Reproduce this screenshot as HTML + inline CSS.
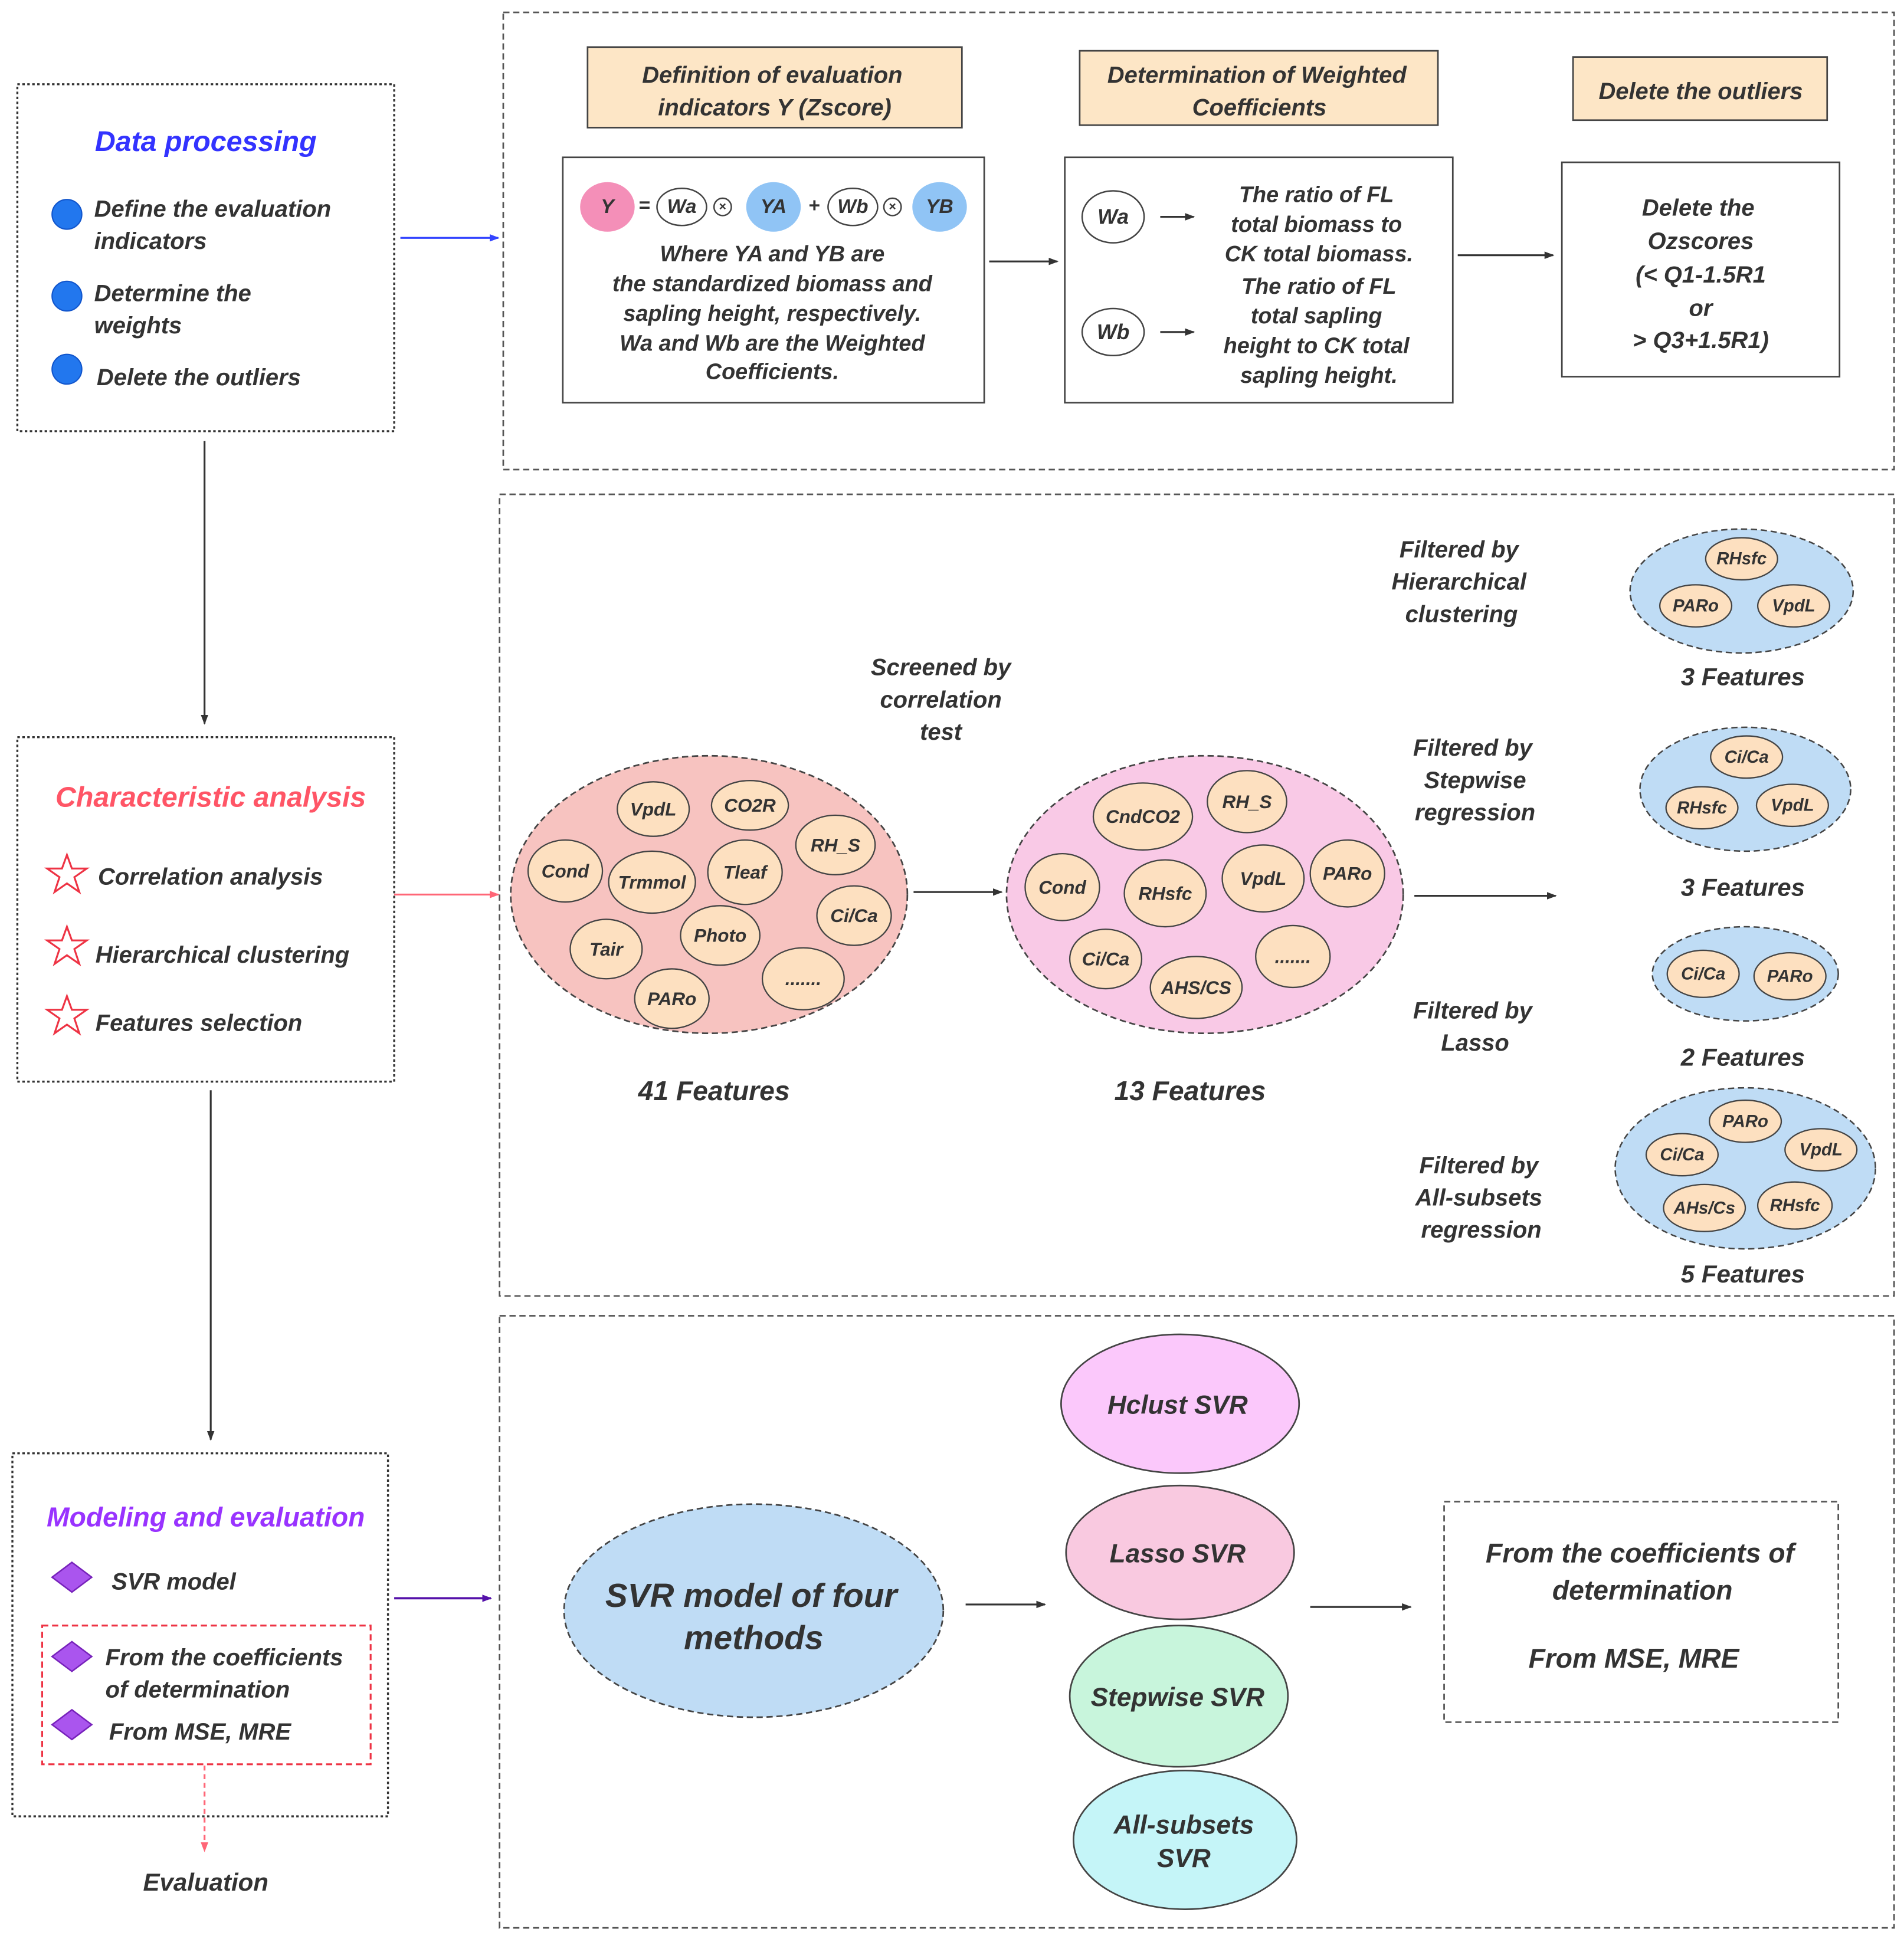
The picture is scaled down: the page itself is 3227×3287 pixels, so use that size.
<!DOCTYPE html>
<html><head><meta charset="utf-8"><style>
html,body{margin:0;padding:0;background:#fff;}
svg{display:block;}
text{font-family:"Liberation Sans",Arial,sans-serif;font-weight:bold;font-style:italic;fill:#333;}
.s{font-style:normal;font-size:15px;text-anchor:middle;dominant-baseline:central;}
.c{text-anchor:middle;}
</style></head><body>
<svg width="3227" height="3287" viewBox="0 0 1536 1565" preserveAspectRatio="none" xmlns="http://www.w3.org/2000/svg">
<defs>
<marker id="a" markerWidth="8" markerHeight="8" refX="7" refY="4" orient="auto" markerUnits="userSpaceOnUse"><path d="M0,1 L8,4 L0,7 z" fill="#333"/></marker>
<marker id="ab" markerWidth="8" markerHeight="8" refX="7" refY="4" orient="auto" markerUnits="userSpaceOnUse"><path d="M0,1 L8,4 L0,7 z" fill="#3344ff"/></marker>
<marker id="ar" markerWidth="8" markerHeight="8" refX="7" refY="4" orient="auto" markerUnits="userSpaceOnUse"><path d="M0,1 L8,4 L0,7 z" fill="#ff6677"/></marker>
<marker id="ap" markerWidth="8" markerHeight="8" refX="7" refY="4" orient="auto" markerUnits="userSpaceOnUse"><path d="M0,1 L8,4 L0,7 z" fill="#5511aa"/></marker>
</defs>
<rect width="1536" height="1565" fill="#fff"/>

<!-- Left boxes -->
<g fill="none" stroke="#333" stroke-width="1.6" stroke-dasharray="2,2">
<rect x="14" y="68" width="304" height="280"/>
<rect x="14" y="595" width="304" height="278"/>
<rect x="10" y="1173" width="303" height="293"/>
</g>
<text x="166" y="122" class="c" style="font-size:23px;fill:#3333ff">Data processing</text>
<g fill="#2277ee" stroke="#1155cc" stroke-width="1"><circle cx="54" cy="173" r="12"/><circle cx="54" cy="239" r="12"/><circle cx="54" cy="298" r="12"/></g>
<g style="font-size:19px"><text x="76" y="175">Define the evaluation</text><text x="76" y="201">indicators</text>
<text x="76" y="243">Determine the</text><text x="76" y="269">weights</text>
<text x="78" y="311">Delete the outliers</text></g>
<line x1="165" y1="356" x2="165" y2="584" stroke="#333" stroke-width="1.5" marker-end="url(#a)"/>

<text x="170" y="651" class="c" style="font-size:23px;fill:#ff5566">Characteristic analysis</text>
<g fill="#fff" stroke="#ee3344" stroke-width="1.5">
<path d="M54,690 l4,11 12,0 -10,7 4,12 -10,-7 -10,7 4,-12 -10,-7 12,0z"/>
<path d="M54,748 l4,11 12,0 -10,7 4,12 -10,-7 -10,7 4,-12 -10,-7 12,0z"/>
<path d="M54,804 l4,11 12,0 -10,7 4,12 -10,-7 -10,7 4,-12 -10,-7 12,0z"/></g>
<g style="font-size:19px"><text x="79" y="714">Correlation analysis</text><text x="77" y="777">Hierarchical clustering</text><text x="77" y="832">Features selection</text></g>
<line x1="170" y1="880" x2="170" y2="1162" stroke="#333" stroke-width="1.5" marker-end="url(#a)"/>

<text x="166" y="1232" class="c" style="font-size:22px;fill:#9933ff">Modeling and evaluation</text>
<g fill="#aa55ee" stroke="#7722bb" stroke-width="1.2">
<path d="M58,1261 l16,12 -16,12 -16,-12z"/><path d="M58,1325 l16,12 -16,12 -16,-12z"/><path d="M58,1380 l16,12 -16,12 -16,-12z"/></g>
<rect x="34" y="1312" width="265" height="112" fill="none" stroke="#ee3344" stroke-width="1.5" stroke-dasharray="5,3"/>
<g style="font-size:19px"><text x="90" y="1283">SVR model</text><text x="85" y="1344">From the coefficients</text><text x="85" y="1370">of determination</text><text x="88" y="1404">From MSE, MRE</text></g>
<line x1="165" y1="1425" x2="165" y2="1494" stroke="#ff6677" stroke-width="1.5" stroke-dasharray="4,3" marker-end="url(#ar)"/>
<text x="166" y="1526" class="c" style="font-size:20px">Evaluation</text>

<line x1="323" y1="192" x2="402" y2="192" stroke="#3344ff" stroke-width="1.5" marker-end="url(#ab)"/>
<line x1="318" y1="722" x2="402" y2="722" stroke="#ff6677" stroke-width="1.5" marker-end="url(#ar)"/>
<line x1="318" y1="1290" x2="396" y2="1290" stroke="#5511aa" stroke-width="1.8" marker-end="url(#ap)"/>

<!-- Right panels -->
<g fill="none" stroke="#555" stroke-width="1.3" stroke-dasharray="5,3">
<rect x="406" y="10" width="1122" height="369"/>
<rect x="403" y="399" width="1125" height="647"/>
<rect x="403" y="1062" width="1125" height="494"/>
</g>

<!-- Panel 1 -->
<g fill="#fde6c6" stroke="#444" stroke-width="1.3">
<rect x="474" y="38" width="302" height="65"/><rect x="871" y="41" width="289" height="60"/><rect x="1269" y="46" width="205" height="51"/></g>
<g style="font-size:19px" class="c">
<text x="623" y="67" class="c">Definition of evaluation</text><text x="625" y="93" class="c">indicators Y (Zscore)</text>
<text x="1014" y="67" class="c">Determination of Weighted</text><text x="1016" y="93" class="c">Coefficients</text>
<text x="1372" y="80" class="c">Delete the outliers</text></g>
<g fill="#fff" stroke="#444" stroke-width="1.3">
<rect x="454" y="127" width="340" height="198"/><rect x="859" y="127" width="313" height="198"/><rect x="1260" y="131" width="224" height="173"/></g>
<ellipse cx="490" cy="167" rx="22" ry="20" fill="#f48fb8"/>
<ellipse cx="624" cy="167" rx="22" ry="20" fill="#90c4f5"/>
<ellipse cx="758" cy="167" rx="22" ry="20" fill="#90c4f5"/>
<g fill="#fff" stroke="#444" stroke-width="1.2"><ellipse cx="550" cy="167" rx="20" ry="15"/><ellipse cx="688" cy="167" rx="20" ry="15"/>
<circle cx="583" cy="167" r="7"/><circle cx="720" cy="167" r="7"/></g>
<g class="s" style="font-style:italic;font-size:16px"><text x="490" y="167">Y</text><text x="550" y="167">Wa</text><text x="624" y="167">YA</text><text x="688" y="167">Wb</text><text x="758" y="167">YB</text>
<text x="520" y="166" style="font-style:normal">=</text><text x="657" y="166" style="font-style:normal">+</text>
<text x="583" y="167" style="font-size:10px;font-style:normal">×</text><text x="720" y="167" style="font-size:10px;font-style:normal">×</text></g>
<g style="font-size:18px"><text x="623" y="211" class="c">Where YA and YB are</text><text x="623" y="235" class="c">the standardized biomass and</text><text x="623" y="259" class="c">sapling height, respectively.</text><text x="623" y="283" class="c">Wa and Wb are the Weighted</text><text x="623" y="306" class="c">Coefficients.</text></g>
<line x1="798" y1="211" x2="853" y2="211" stroke="#333" stroke-width="1.5" marker-end="url(#a)"/>
<g fill="#fff" stroke="#444" stroke-width="1.2"><ellipse cx="898" cy="175" rx="25" ry="21"/><ellipse cx="898" cy="268" rx="25" ry="19"/></g>
<g class="s" style="font-style:italic;font-size:17px"><text x="898" y="175">Wa</text><text x="898" y="268">Wb</text></g>
<line x1="936" y1="175" x2="963" y2="175" stroke="#333" stroke-width="1.5" marker-end="url(#a)"/>
<line x1="936" y1="268" x2="963" y2="268" stroke="#333" stroke-width="1.5" marker-end="url(#a)"/>
<g style="font-size:18px"><text x="1062" y="163" class="c">The ratio of FL</text><text x="1062" y="187" class="c">total biomass to</text><text x="1064" y="211" class="c">CK total biomass.</text>
<text x="1064" y="237" class="c">The ratio of FL</text><text x="1062" y="261" class="c">total sapling</text><text x="1062" y="285" class="c">height to CK total</text><text x="1064" y="309" class="c">sapling height.</text></g>
<line x1="1176" y1="206" x2="1253" y2="206" stroke="#333" stroke-width="1.5" marker-end="url(#a)"/>
<g style="font-size:19px"><text x="1370" y="174" class="c">Delete the</text><text x="1372" y="201" class="c">Ozscores</text><text x="1372" y="228" class="c">(&lt; Q1-1.5R1</text><text x="1372" y="255" class="c">or</text><text x="1372" y="281" class="c">&gt; Q3+1.5R1)</text></g>

<!-- Panel 2 -->
<ellipse cx="572" cy="722" rx="160" ry="112" fill="#f7c3c0" stroke="#444" stroke-width="1.3" stroke-dasharray="5,3"/>
<ellipse cx="972" cy="722" rx="160" ry="112" fill="#f9c9e6" stroke="#444" stroke-width="1.3" stroke-dasharray="5,3"/>
<g fill="#fde0c0" stroke="#444" stroke-width="1.1">
<ellipse cx="527" cy="653" rx="29" ry="22"/><ellipse cx="605" cy="650" rx="31" ry="20"/><ellipse cx="674" cy="682" rx="32" ry="24"/><ellipse cx="456" cy="703" rx="30" ry="25"/><ellipse cx="526" cy="712" rx="35" ry="25"/><ellipse cx="601" cy="704" rx="30" ry="26"/><ellipse cx="689" cy="739" rx="30" ry="24"/><ellipse cx="489" cy="766" rx="29" ry="24"/><ellipse cx="581" cy="755" rx="32" ry="24"/><ellipse cx="542" cy="806" rx="30" ry="24"/><ellipse cx="648" cy="790" rx="33" ry="25"/>
<ellipse cx="922" cy="659" rx="40" ry="27"/><ellipse cx="1006" cy="647" rx="32" ry="25"/><ellipse cx="857" cy="716" rx="30" ry="27"/><ellipse cx="940" cy="721" rx="33" ry="27"/><ellipse cx="1019" cy="709" rx="33" ry="27"/><ellipse cx="1087" cy="705" rx="30" ry="27"/><ellipse cx="892" cy="774" rx="29" ry="24"/><ellipse cx="965" cy="797" rx="37" ry="25"/><ellipse cx="1043" cy="772" rx="30" ry="25"/>
</g>
<g class="s"><text x="527" y="653">VpdL</text><text x="605" y="650">CO2R</text><text x="674" y="682">RH_S</text><text x="456" y="703">Cond</text><text x="526" y="712">Trmmol</text><text x="601" y="704">Tleaf</text><text x="689" y="739">Ci/Ca</text><text x="489" y="766">Tair</text><text x="581" y="755">Photo</text><text x="542" y="806">PARo</text><text x="648" y="790">.......</text>
<text x="922" y="659">CndCO2</text><text x="1006" y="647">RH_S</text><text x="857" y="716">Cond</text><text x="940" y="721">RHsfc</text><text x="1019" y="709">VpdL</text><text x="1087" y="705">PARo</text><text x="892" y="774">Ci/Ca</text><text x="965" y="797">AHS/CS</text><text x="1043" y="772">.......</text></g>
<line x1="737" y1="720" x2="808" y2="720" stroke="#333" stroke-width="1.5" marker-end="url(#a)"/>
<g style="font-size:19px"><text x="759" y="545" class="c">Screened by</text><text x="759" y="571" class="c">correlation</text><text x="759" y="597" class="c">test</text></g>
<g style="font-size:22px"><text x="576" y="888" class="c">41 Features</text><text x="960" y="888" class="c">13 Features</text></g>
<line x1="1141" y1="723" x2="1255" y2="723" stroke="#333" stroke-width="1.5" marker-end="url(#a)"/>
<g style="font-size:19px">
<text x="1177" y="450" class="c">Filtered by</text><text x="1177" y="476" class="c">Hierarchical</text><text x="1179" y="502" class="c">clustering</text>
<text x="1188" y="610" class="c">Filtered by</text><text x="1190" y="636" class="c">Stepwise</text><text x="1190" y="662" class="c">regression</text>
<text x="1188" y="822" class="c">Filtered by</text><text x="1190" y="848" class="c">Lasso</text>
<text x="1193" y="947" class="c">Filtered by</text><text x="1193" y="973" class="c">All-subsets</text><text x="1195" y="999" class="c">regression</text></g>
<g fill="#bfdcf5" stroke="#444" stroke-width="1.2" stroke-dasharray="5,3">
<ellipse cx="1405" cy="477" rx="90" ry="50"/><ellipse cx="1408" cy="637" rx="85" ry="50"/><ellipse cx="1408" cy="786" rx="75" ry="38"/><ellipse cx="1408" cy="943" rx="105" ry="65"/></g>
<g fill="#fde0c0" stroke="#444" stroke-width="1.1">
<ellipse cx="1405" cy="451" rx="29" ry="17"/><ellipse cx="1368" cy="489" rx="29" ry="17"/><ellipse cx="1447" cy="489" rx="29" ry="17"/>
<ellipse cx="1409" cy="611" rx="29" ry="17"/><ellipse cx="1373" cy="652" rx="29" ry="17"/><ellipse cx="1446" cy="650" rx="29" ry="17"/>
<ellipse cx="1374" cy="786" rx="29" ry="19"/><ellipse cx="1444" cy="788" rx="29" ry="19"/>
<ellipse cx="1408" cy="905" rx="29" ry="17"/><ellipse cx="1357" cy="932" rx="29" ry="17"/><ellipse cx="1469" cy="928" rx="29" ry="17"/><ellipse cx="1375" cy="975" rx="33" ry="19"/><ellipse cx="1448" cy="973" rx="30" ry="19"/></g>
<g class="s" style="font-size:14px"><text x="1405" y="451">RHsfc</text><text x="1368" y="489">PARo</text><text x="1447" y="489">VpdL</text>
<text x="1409" y="611">Ci/Ca</text><text x="1373" y="652">RHsfc</text><text x="1446" y="650">VpdL</text>
<text x="1374" y="786">Ci/Ca</text><text x="1444" y="788">PARo</text>
<text x="1408" y="905">PARo</text><text x="1357" y="932">Ci/Ca</text><text x="1469" y="928">VpdL</text><text x="1375" y="975">AHs/Cs</text><text x="1448" y="973">RHsfc</text></g>
<g style="font-size:20px"><text x="1406" y="553" class="c">3 Features</text><text x="1406" y="723" class="c">3 Features</text><text x="1406" y="860" class="c">2 Features</text><text x="1406" y="1035" class="c">5 Features</text></g>

<!-- Panel 3 -->
<ellipse cx="608" cy="1300" rx="153" ry="86" fill="#bfdcf5" stroke="#444" stroke-width="1.3" stroke-dasharray="5,3"/>
<g style="font-size:27px"><text x="606" y="1297" class="c">SVR model of four</text><text x="608" y="1331" class="c">methods</text></g>
<line x1="779" y1="1295" x2="843" y2="1295" stroke="#333" stroke-width="1.5" marker-end="url(#a)"/>
<g stroke="#444" stroke-width="1.3">
<ellipse cx="952" cy="1133" rx="96" ry="56" fill="#fbc8fb"/><ellipse cx="952" cy="1253" rx="92" ry="54" fill="#f9c9e0"/><ellipse cx="951" cy="1369" rx="88" ry="57" fill="#c8f5dc"/><ellipse cx="956" cy="1485" rx="90" ry="56" fill="#c5f5f8"/></g>
<g style="font-size:21px"><text x="950" y="1141" class="c">Hclust  SVR</text><text x="950" y="1261" class="c">Lasso SVR</text><text x="950" y="1377" class="c">Stepwise SVR</text><text x="955" y="1480" class="c">All-subsets</text><text x="955" y="1507" class="c">SVR</text></g>
<line x1="1057" y1="1297" x2="1138" y2="1297" stroke="#333" stroke-width="1.5" marker-end="url(#a)"/>
<rect x="1165" y="1212" width="318" height="178" fill="none" stroke="#555" stroke-width="1.3" stroke-dasharray="5,3"/>
<g style="font-size:22px"><text x="1323" y="1261" class="c">From the coefficients of</text><text x="1325" y="1291" class="c">determination</text><text x="1318" y="1346" class="c">From MSE, MRE</text></g>
</svg>
</body></html>
